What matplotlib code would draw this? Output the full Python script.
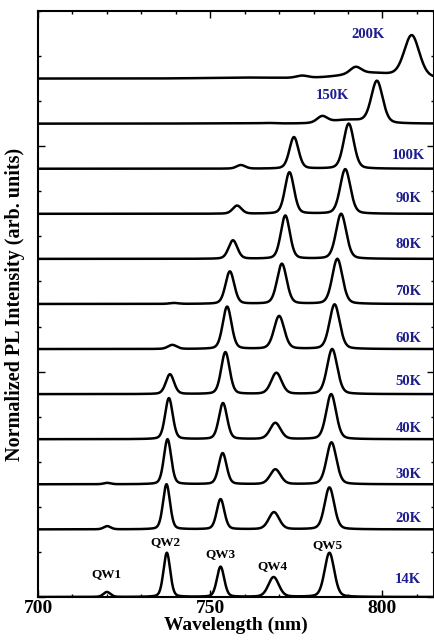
import numpy as np
import matplotlib
matplotlib.use('Agg')
import matplotlib.pyplot as plt
from matplotlib.ticker import MultipleLocator

plt.rcParams['font.family'] = ['Liberation Serif', 'DejaVu Serif']
plt.rcParams['font.weight'] = 'bold'

# temperatures and vertical offsets of each spectrum
temps = ['14K', '20K', '30K', '40K', '50K', '60K', '70K', '80K', '90K', '100K', '150K', '200K']
offsets = [0, 1.5, 2.5, 3.5, 4.5, 5.5, 6.5, 7.5, 8.5, 9.5, 10.5, 11.5]

# peak centres (nm), heights (normalized) and FWHM (nm)
centers = [
    [720.0, 737.4, 753.0, 768.4, 784.6],
    [720.1, 737.3, 753.0, 768.5, 784.6],
    [720.1, 737.6, 753.6, 768.9, 785.2],
    [738.0, 753.7, 768.9, 785.1],
    [738.3, 754.4, 769.2, 785.4],
    [739.0, 754.9, 770.0, 786.1],
    [739.5, 755.7, 770.8, 786.9],
    [756.6, 771.8, 788.0],
    [757.8, 773.0, 789.2],
    [758.9, 774.3, 790.2],
    [755.0, 766.7, 782.5, 790.0, 798.4],
    [760.0, 776.7, 792.2, 796.0, 808.5],
]
heights = [
    [0.11, 0.98, 0.67, 0.44, 0.98],
    [0.07, 1.00, 0.67, 0.38, 0.93],
    [0.03, 1.00, 0.69, 0.33, 0.93],
    [0.91, 0.80, 0.36, 1.00],
    [0.44, 0.93, 0.47, 1.00],
    [0.09, 0.94, 0.73, 0.99],
    [0.02, 0.72, 0.89, 1.00],
    [0.41, 0.96, 1.00],
    [0.18, 0.92, 0.99],
    [0.08, 0.70, 1.00],
    [0.01, 0.01, 0.14, 0.08, 0.93],
    [0.02, 0.05, 0.15, 0.12, 0.93],
]
widths = [
    [2.4, 2.3, 2.5, 3.6, 3.3],
    [2.4, 2.4, 2.6, 3.6, 3.3],
    [2.4, 2.5, 2.7, 3.6, 3.4],
    [2.6, 2.8, 3.6, 3.4],
    [2.8, 2.9, 3.6, 3.5],
    [3.0, 3.0, 3.5, 3.5],
    [3.0, 3.0, 3.3, 3.5],
    [3.0, 3.1, 3.5],
    [3.0, 3.1, 3.5],
    [3.0, 3.1, 3.5],
    [20.0, 4.0, 3.5, 12.0, 3.9],
    [25.0, 4.0, 3.8, 18.0, 5.2],
]

qw_names = ['QW1', 'QW2', 'QW3', 'QW4', 'QW5']
qw_x = [720.0, 737.1, 753.0, 768.1, 784.0]
qw_y = [0.51, 1.22, 0.96, 0.69, 1.16]

label_x = [807.5] * 10 + [785.4, 795.7]
label_dy = [0.38, 0.24, 0.22, 0.24, 0.27, 0.24, 0.27, 0.31, 0.33, 0.29, 0.63, 0.98]


def pvoigt(x, c, h, w, eta=0.25):
    g = np.exp(-4 * np.log(2) * (x - c) ** 2 / w ** 2)
    l = 1 / (1 + 4 * (x - c) ** 2 / w ** 2)
    return h * ((1 - eta) * g + eta * l)


wl = np.linspace(700, 815, 2000)

fig = plt.figure(figsize=(4.35, 6.44), dpi=100)
ax = fig.add_axes([0.0874, 0.073, 0.9106, 0.910])

for i, t in enumerate(temps):
    y = np.zeros_like(wl)
    for c, h, w in zip(centers[i], heights[i], widths[i]):
        y += pvoigt(wl, c, h, w)
    ax.plot(wl, y + offsets[i], color='black', lw=1.8)
    ax.text(label_x[i], offsets[i] + label_dy[i], t, color='#1c1c8e',
            fontsize=10.5, fontweight='bold', ha='center', va='center')

for n, x, y in zip(qw_names, qw_x, qw_y):
    ax.text(x, y, n, fontsize=9.5, fontweight='bold', ha='center', va='center')

ax.set_xlim(700, 815)
ax.set_ylim(0, 13)
ax.xaxis.set_major_locator(MultipleLocator(50))
ax.xaxis.set_minor_locator(MultipleLocator(10))
ax.yaxis.set_major_locator(MultipleLocator(5))
ax.yaxis.set_minor_locator(MultipleLocator(1))
ax.set_yticklabels([])
ax.tick_params(which='both', direction='in', top=True, right=True, width=1.0)
ax.tick_params(which='major', length=5, labelsize=14, pad=2)
ax.tick_params(which='minor', length=2.5)
for lab in ax.get_xticklabels():
    lab.set_fontweight('bold')
for s in ax.spines.values():
    s.set_linewidth(1.5)

ax.set_xlabel('Wavelength (nm)', fontsize=14, fontweight='bold', labelpad=0)
ax.set_ylabel('Normalized PL Intensity (arb. units)', fontsize=14.5,
              fontweight='bold', labelpad=6)

fig.savefig('out.png', dpi=100)
